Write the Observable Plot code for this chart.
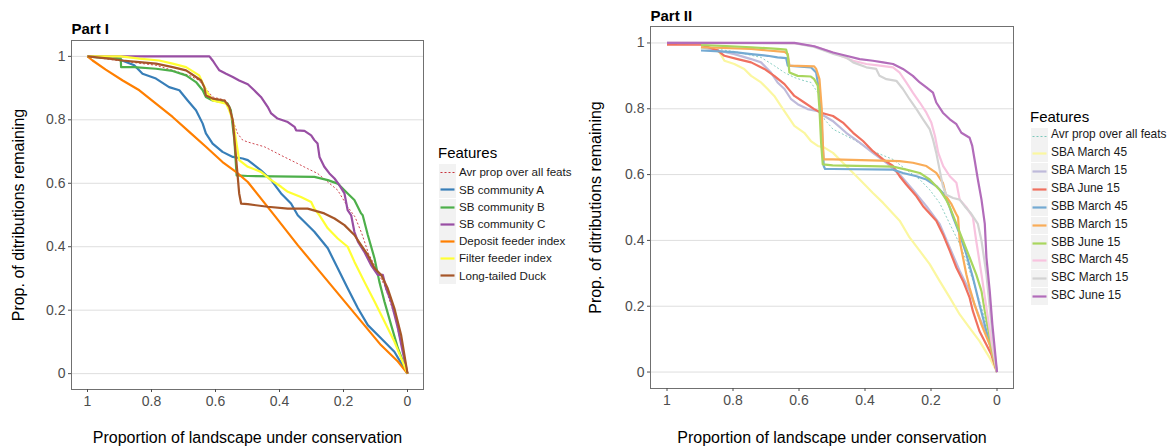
<!DOCTYPE html>
<html>
<head>
<meta charset="utf-8">
<script src="https://cdn.jsdelivr.net/npm/d3@7"></script>
<script src="https://cdn.jsdelivr.net/npm/@observablehq/plot@0.6"></script>
<style>
  body { margin: 0; background: #fff; font-family: "Liberation Sans", Arial, sans-serif; }
  #wrap { position: relative; width: 1176px; height: 447px; overflow: hidden; background: #fff; }
  .panel { position: absolute; top: 0; }
  .lg-title { position: absolute; color: #000; white-space: nowrap; line-height: 1; }
  .lg-key { position: absolute; background: #f2f2f2; }
  .lg-label { position: absolute; color: #1a1a1a; white-space: nowrap; line-height: 1; }
</style>
</head>
<body>
<div id="wrap"></div>
<script>
// ---------- shared axis values ----------
const xTicks = [1, 0.8, 0.6, 0.4, 0.2, 0];
const yTicks = [0, 0.2, 0.4, 0.6, 0.8, 1];
const xTitle = "Proportion of landscape under conservation";
const yTitle = "Prop. of ditributions remaining";
const legendTitle = "Features";

// ---------- Part I data: [proportion of landscape, prop. remaining] ----------
const part1Title = "Part I";
const part1Labels = ["Avr prop over all feats", "SB community A", "SB community B", "SB community C",
  "Deposit feeder index", "Filter feeder index", "Long-tailed Duck"];

const p1Avr = [[1,1],[0.891,0.985],[0.786,0.972],[0.734,0.956],[0.682,0.940],[0.651,0.924],[0.630,0.898],
  [0.609,0.872],[0.567,0.861],[0.557,0.841],[0.546,0.799],[0.531,0.757],[0.515,0.736],[0.499,0.730],
  [0.447,0.715],[0.395,0.688],[0.343,0.662],[0.312,0.646],[0.281,0.631],[0.249,0.604],[0.218,0.578],
  [0.187,0.526],[0.164,0.494],[0.143,0.442],[0.122,0.379],[0.101,0.337],[0.070,0.274],[0.039,0.179],[0,0]];
const p1SbA = [[1,1],[0.914,0.996],[0.854,0.972],[0.828,0.945],[0.786,0.930],[0.745,0.903],[0.713,0.893],
  [0.687,0.861],[0.661,0.830],[0.640,0.788],[0.630,0.757],[0.609,0.725],[0.578,0.699],[0.546,0.683],
  [0.515,0.678],[0.499,0.673],[0.458,0.641],[0.426,0.610],[0.395,0.568],[0.364,0.536],[0.343,0.499],
  [0.291,0.447],[0.249,0.395],[0.218,0.332],[0.187,0.269],[0.155,0.206],[0.124,0.153],[0.082,0.111],
  [0.041,0.069],[0,0]];
const p1SbB = [[1,1],[0.95,0.995],[0.896,0.993],[0.895,0.966],[0.854,0.966],[0.786,0.961],[0.734,0.954],
  [0.692,0.940],[0.661,0.919],[0.640,0.893],[0.630,0.872],[0.609,0.861],[0.578,0.856],[0.562,0.851],
  [0.552,0.830],[0.541,0.736],[0.534,0.625],[0.499,0.623],[0.291,0.620],[0.249,0.610],[0.218,0.599],
  [0.187,0.568],[0.166,0.547],[0.145,0.505],[0.140,0.499],[0.124,0.437],[0.103,0.363],[0.088,0.290],
  [0.072,0.227],[0.051,0.153],[0.030,0.080],[0,0]];
const p1SbC = [[1,1],[0.619,1],[0.609,0.987],[0.599,0.972],[0.588,0.956],[0.567,0.945],[0.546,0.935],
  [0.526,0.924],[0.499,0.912],[0.479,0.893],[0.458,0.872],[0.437,0.841],[0.426,0.820],[0.406,0.804],
  [0.374,0.793],[0.353,0.778],[0.348,0.767],[0.322,0.765],[0.301,0.751],[0.291,0.736],[0.281,0.725],
  [0.275,0.683],[0.260,0.652],[0.244,0.631],[0.228,0.615],[0.213,0.594],[0.197,0.568],[0.187,0.515],
  [0.176,0.499],[0.166,0.447],[0.155,0.416],[0.135,0.384],[0.114,0.342],[0.093,0.311],[0.077,0.311],
  [0.067,0.269],[0.051,0.227],[0.030,0.143],[0.015,0.069],[0,0]];
const p1Deposit = [[1,1],[0.984,0.987],[0.943,0.958],[0.890,0.924],[0.838,0.893],[0.786,0.851],[0.734,0.809],
  [0.682,0.762],[0.630,0.715],[0.578,0.667],[0.536,0.636],[0.499,0.604],[0.416,0.499],[0.343,0.405],
  [0.291,0.342],[0.239,0.279],[0.187,0.216],[0.135,0.153],[0.083,0.090],[0.030,0.038],[0,0]];
const p1Filter = [[1,1],[0.896,1],[0.838,0.993],[0.776,0.987],[0.734,0.977],[0.692,0.966],[0.651,0.940],
  [0.630,0.893],[0.609,0.861],[0.567,0.851],[0.557,0.830],[0.546,0.799],[0.536,0.736],[0.526,0.673],
  [0.499,0.652],[0.458,0.636],[0.426,0.610],[0.395,0.589],[0.374,0.573],[0.333,0.557],[0.301,0.541],
  [0.291,0.520],[0.275,0.499],[0.249,0.458],[0.218,0.426],[0.187,0.400],[0.166,0.353],[0.135,0.290],
  [0.103,0.227],[0.072,0.164],[0.041,0.101],[0,0]];
const p1Duck = [[1,1],[0.932,0.993],[0.891,0.987],[0.838,0.982],[0.786,0.977],[0.734,0.966],[0.692,0.956],
  [0.661,0.935],[0.645,0.924],[0.635,0.903],[0.630,0.877],[0.609,0.867],[0.572,0.861],[0.557,0.841],
  [0.546,0.799],[0.536,0.683],[0.526,0.568],[0.520,0.536],[0.499,0.534],[0.437,0.526],[0.374,0.520],
  [0.312,0.520],[0.260,0.505],[0.228,0.489],[0.197,0.468],[0.166,0.437],[0.145,0.405],[0.124,0.374],
  [0.103,0.332],[0.082,0.311],[0.062,0.269],[0.041,0.206],[0.020,0.122],[0,0]];

// ---------- Part II data ----------
const part2Title = "Part II";
const part2Labels = ["Avr prop over all feats", "SBA March 45", "SBA March 15", "SBA June 15",
  "SBB March 45", "SBB March 15", "SBB June 15", "SBC March 45", "SBC March 15", "SBC June 15"];

const p2Avr = [[0.897,0.987],[0.796,0.974],[0.715,0.956],[0.675,0.931],[0.644,0.910],[0.614,0.895],
  [0.584,0.885],[0.564,0.880],[0.543,0.849],[0.533,0.809],[0.523,0.768],[0.497,0.738],[0.436,0.707],
  [0.376,0.671],[0.315,0.646],[0.275,0.615],[0.234,0.585],[0.204,0.554],[0.174,0.514],[0.143,0.450],
  [0.113,0.389],[0.093,0.338],[0.073,0.277],[0.053,0.216],[0.032,0.144],[0.012,0.063],[0,0]];
const p2SbaMar45 = [[0.897,0.985],[0.857,0.980],[0.841,0.972],[0.826,0.946],[0.796,0.936],[0.766,0.921],
  [0.745,0.900],[0.715,0.880],[0.695,0.860],[0.675,0.839],[0.655,0.809],[0.634,0.778],[0.614,0.748],
  [0.584,0.727],[0.564,0.702],[0.543,0.687],[0.523,0.682],[0.497,0.666],[0.457,0.626],[0.416,0.585],
  [0.376,0.544],[0.345,0.514],[0.295,0.460],[0.265,0.409],[0.234,0.368],[0.204,0.328],[0.174,0.277],
  [0.143,0.226],[0.113,0.175],[0.083,0.134],[0.053,0.094],[0.022,0.043],[0,0]];
const p2SbaMar15 = [[0.897,0.987],[0.846,0.977],[0.796,0.966],[0.745,0.951],[0.715,0.941],[0.685,0.910],
  [0.665,0.880],[0.644,0.860],[0.624,0.829],[0.604,0.814],[0.574,0.799],[0.543,0.793],[0.523,0.778],
  [0.498,0.763],[0.457,0.727],[0.416,0.697],[0.376,0.666],[0.335,0.636],[0.295,0.600],[0.255,0.554],
  [0.214,0.504],[0.174,0.450],[0.143,0.378],[0.113,0.307],[0.083,0.246],[0.053,0.165],[0.022,0.094],[0,0]];
const p2SbaJun15 = [[1,0.995],[0.897,0.995],[0.846,0.977],[0.826,0.961],[0.786,0.951],[0.745,0.941],
  [0.705,0.921],[0.675,0.900],[0.644,0.875],[0.614,0.839],[0.584,0.819],[0.554,0.799],[0.533,0.788],
  [0.497,0.778],[0.467,0.758],[0.436,0.727],[0.406,0.702],[0.376,0.671],[0.345,0.646],[0.315,0.626],
  [0.295,0.595],[0.275,0.570],[0.244,0.534],[0.224,0.504],[0.184,0.460],[0.164,0.419],[0.143,0.368],
  [0.123,0.317],[0.103,0.277],[0.083,0.226],[0.073,0.185],[0.053,0.124],[0.032,0.083],[0.017,0.053],[0,0]];
const p2SbbMar45 = [[0.897,0.977],[0.796,0.972],[0.745,0.966],[0.695,0.961],[0.665,0.956],[0.639,0.954],
  [0.634,0.931],[0.564,0.926],[0.548,0.910],[0.538,0.849],[0.531,0.748],[0.525,0.626],[0.521,0.617],
  [0.498,0.617],[0.315,0.615],[0.285,0.605],[0.244,0.595],[0.214,0.585],[0.184,0.565],[0.164,0.544],
  [0.148,0.514],[0.133,0.470],[0.113,0.419],[0.093,0.358],[0.073,0.287],[0.053,0.205],[0.032,0.124],[0,0]];
const p2SbbMar15 = [[0.897,0.987],[0.745,0.982],[0.695,0.977],[0.644,0.973],[0.634,0.966],[0.629,0.931],
  [0.554,0.929],[0.548,0.921],[0.538,0.890],[0.531,0.799],[0.528,0.697],[0.525,0.646],[0.498,0.646],
  [0.295,0.641],[0.255,0.636],[0.214,0.626],[0.184,0.605],[0.164,0.575],[0.154,0.534],[0.139,0.512],
  [0.124,0.481],[0.118,0.470],[0.113,0.399],[0.103,0.348],[0.093,0.297],[0.083,0.256],[0.068,0.205],
  [0.047,0.144],[0.022,0.083],[0,0]];
const p2SbbJun15 = [[0.897,0.994],[0.745,0.987],[0.665,0.982],[0.639,0.980],[0.634,0.961],[0.629,0.910],
  [0.604,0.900],[0.564,0.898],[0.554,0.890],[0.543,0.870],[0.538,0.799],[0.533,0.697],[0.528,0.631],
  [0.498,0.628],[0.315,0.624],[0.275,0.615],[0.234,0.605],[0.204,0.585],[0.174,0.554],[0.154,0.524],
  [0.143,0.501],[0.123,0.450],[0.103,0.399],[0.083,0.348],[0.063,0.297],[0.047,0.246],[0.037,0.185],
  [0.018,0.084],[0,0]];
const p2SbcMar45 = [[1,1],[0.614,0.999],[0.554,0.990],[0.493,0.969],[0.436,0.946],[0.396,0.936],[0.355,0.931],
  [0.315,0.926],[0.295,0.910],[0.275,0.880],[0.255,0.849],[0.234,0.819],[0.214,0.788],[0.199,0.758],
  [0.188,0.717],[0.178,0.666],[0.163,0.626],[0.143,0.595],[0.123,0.575],[0.113,0.524],[0.093,0.501],
  [0.073,0.470],[0.063,0.399],[0.047,0.297],[0.032,0.195],[0.017,0.094],[0,0]];
const p2SbcMar15 = [[1,1],[0.614,0.999],[0.554,0.988],[0.493,0.966],[0.457,0.956],[0.436,0.941],[0.396,0.926],
  [0.366,0.921],[0.356,0.900],[0.335,0.890],[0.305,0.885],[0.285,0.860],[0.265,0.829],[0.244,0.799],
  [0.224,0.768],[0.204,0.738],[0.194,0.707],[0.184,0.666],[0.174,0.615],[0.164,0.565],[0.154,0.539],
  [0.133,0.529],[0.113,0.524],[0.098,0.504],[0.078,0.481],[0.058,0.450],[0.047,0.399],[0.032,0.297],
  [0.022,0.195],[0.012,0.094],[0,0]];
const p2SbcJun15 = [[1,1],[0.614,1],[0.554,0.990],[0.497,0.971],[0.457,0.961],[0.416,0.951],[0.376,0.946],
  [0.345,0.941],[0.315,0.936],[0.285,0.921],[0.255,0.900],[0.234,0.880],[0.214,0.865],[0.194,0.849],
  [0.184,0.819],[0.164,0.788],[0.143,0.768],[0.123,0.753],[0.108,0.727],[0.083,0.712],[0.075,0.687],
  [0.068,0.646],[0.058,0.585],[0.047,0.524],[0.037,0.450],[0.032,0.348],[0.022,0.246],[0.014,0.144],
  [0.007,0.073],[0,0]];

// ---------- styling (separate from data) ----------
const part1Series = [
  {label: part1Labels[0], data: p1Avr, color: "#C8323C", width: 0.9, dash: "2,2"},
  {label: part1Labels[1], data: p1SbA, color: "#377EB8", width: 2.2},
  {label: part1Labels[2], data: p1SbB, color: "#4DAF4A", width: 2.2},
  {label: part1Labels[3], data: p1SbC, color: "#984EA3", width: 2.2},
  {label: part1Labels[4], data: p1Deposit, color: "#FF7F00", width: 2.2},
  {label: part1Labels[5], data: p1Filter, color: "#FFFF33", width: 2.2},
  {label: part1Labels[6], data: p1Duck, color: "#A65628", width: 2.2}
];
const part2Series = [
  {label: part2Labels[0], data: p2Avr, color: "#7CC8BB", width: 0.9, dash: "2,2"},
  {label: part2Labels[1], data: p2SbaMar45, color: "#FBF7A0", width: 2.2},
  {label: part2Labels[2], data: p2SbaMar15, color: "#BEBADA", width: 2.2},
  {label: part2Labels[3], data: p2SbaJun15, color: "#F0705F", width: 2.2},
  {label: part2Labels[4], data: p2SbbMar45, color: "#74AAD3", width: 2.2},
  {label: part2Labels[5], data: p2SbbMar15, color: "#F9AC58", width: 2.2},
  {label: part2Labels[6], data: p2SbbJun15, color: "#A9D65E", width: 2.2},
  {label: part2Labels[7], data: p2SbcMar45, color: "#F8C3DF", width: 2.2},
  {label: part2Labels[8], data: p2SbcMar15, color: "#D3D3D3", width: 2.2},
  {label: part2Labels[9], data: p2SbcJun15, color: "#B26CBA", width: 2.2}
];

const FONT = '"Liberation Sans", Arial, sans-serif';
const fmt = d3.format("~g");

function makePanel(series, cfg) {
  return Plot.plot({
    width: cfg.width, height: 447,
    marginLeft: cfg.ml, marginRight: cfg.mr, marginTop: cfg.mt, marginBottom: cfg.mb,
    x: {domain: [1.05, -0.05]},
    y: {domain: [-0.05, 1.05]},
    style: {fontFamily: FONT, background: "white", overflow: "visible"},
    marks: [
      Plot.gridY(yTicks, {stroke: "#dedede", strokeOpacity: 1, strokeWidth: 1}),
      ...series.map(s => Plot.line(s.data, {
        x: d => d[0], y: d => d[1], stroke: s.color, strokeWidth: s.width,
        strokeDasharray: s.dash, strokeLinejoin: "round", strokeLinecap: "butt"
      })),
      Plot.frame({stroke: "#707070", strokeWidth: 1}),
      Plot.axisX({ticks: xTicks, tickFormat: fmt, tickSize: 3, tickPadding: 4, label: null,
        fontSize: 14, color: "#4d4d4d"}),
      Plot.axisY({ticks: yTicks, tickFormat: fmt, tickSize: 3, tickPadding: 3, label: null,
        fontSize: 14, color: "#4d4d4d"}),
      Plot.text([xTitle], {frameAnchor: "bottom", text: d => d, dy: cfg.xtDy, fontSize: 16,
        fill: "#000", textAnchor: "middle", lineAnchor: "middle"}),
      Plot.text([yTitle], {frameAnchor: "left", text: d => d, dx: cfg.ytDx, rotate: -90, fontSize: 16,
        fill: "#000", textAnchor: "middle", lineAnchor: "middle"}),
      Plot.text([cfg.title], {frameAnchor: "top-left", text: d => d, dy: cfg.titleDy, fontSize: 15,
        fontWeight: "bold", fill: "#000", textAnchor: "start", lineAnchor: "middle"})
    ]
  });
}

function makeLegend(container, series, lg) {
  const t = document.createElement("div");
  t.className = "lg-title";
  t.textContent = legendTitle;
  t.style.left = lg.x + "px";
  t.style.top = (lg.titleY - 8) + "px";
  t.style.fontSize = "15px";
  container.appendChild(t);
  series.forEach((s, i) => {
    const cy = lg.y0 + i * lg.step;
    const key = document.createElement("div");
    key.className = "lg-key";
    key.style.left = lg.keyX + "px";
    key.style.top = (cy - 8.5) + "px";
    key.style.width = "17px";
    key.style.height = "17px";
    const svg = d3.create("svg").attr("width", 17).attr("height", 17);
    svg.append("line").attr("x1", 1.5).attr("x2", 15.5).attr("y1", 8.5).attr("y2", 8.5)
      .attr("stroke", s.color).attr("stroke-width", s.dash ? 1 : 2.2)
      .attr("stroke-dasharray", s.dash || null);
    key.appendChild(svg.node());
    container.appendChild(key);
    const lab = document.createElement("div");
    lab.className = "lg-label";
    lab.textContent = s.label;
    lab.style.left = lg.labelX + "px";
    lab.style.top = (cy - lg.fs * 0.55) + "px";
    lab.style.fontSize = lg.fs + "px";
    container.appendChild(lab);
  });
}

const wrap = document.getElementById("wrap");

const p1 = makePanel(part1Series, {width: 430, ml: 71, mr: 7, mt: 40, mb: 58,
  xtDy: 48, ytDx: -53, titleDy: -11, title: part1Title});
p1.classList.add("panel");
p1.style.left = "0px";
wrap.appendChild(p1);

const p2 = makePanel(part2Series, {width: 440, ml: 70, mr: 7, mt: 26, mb: 59,
  xtDy: 49, ytDx: -55, titleDy: -10, title: part2Title});
p2.classList.add("panel");
p2.style.left = "580px";
wrap.appendChild(p2);

makeLegend(wrap, part1Series, {x: 438, titleY: 153, keyX: 439, labelX: 459, y0: 172.7, step: 17.2, fs: 11.6});
makeLegend(wrap, part2Series, {x: 1030, titleY: 117, keyX: 1031, labelX: 1051, y0: 136, step: 17.85, fs: 11.9});
</script>
</body>
</html>
